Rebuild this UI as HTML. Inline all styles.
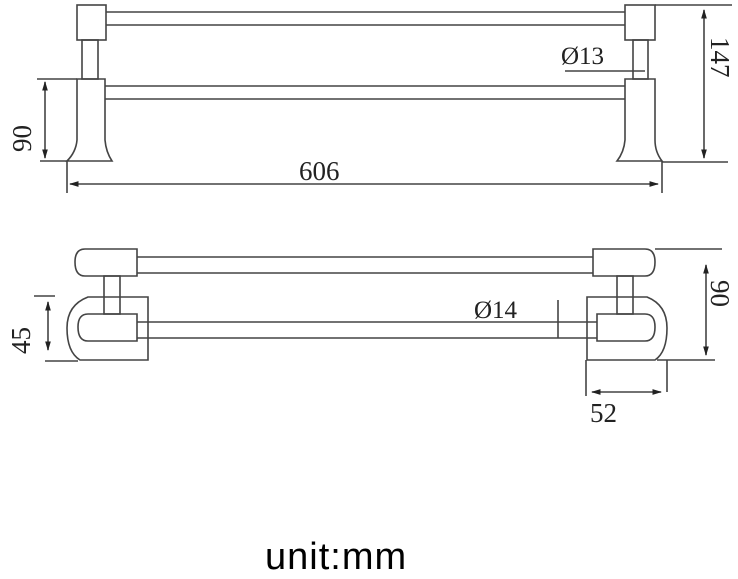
<!DOCTYPE html>
<html><head><style>
html,body{margin:0;padding:0;background:#fff;width:738px;height:579px;overflow:hidden}
svg{display:block}
.l{stroke:#444;stroke-width:1.6;fill:none}
.t{font-family:"Liberation Serif",serif;font-size:27px;fill:#222}
</style></head><body>
<svg width="738" height="579" viewBox="0 0 738 579">
<defs><marker id="a" viewBox="0 0 10 10" refX="9" refY="5" markerWidth="6" markerHeight="6" orient="auto-start-reverse"><path d="M0,2 L10,5 L0,8z" fill="#222"/></marker></defs>
<g class="l">
<rect x="77" y="5" width="29" height="35"/>
<rect x="625" y="5" width="30" height="35"/>
<line x1="106" y1="12" x2="625" y2="12"/><line x1="106" y1="25" x2="625" y2="25"/>
<rect x="82" y="40" width="16" height="39"/>
<rect x="633" y="40" width="15" height="39"/>
<path d="M77,79 L77,140 Q76,152 67,161 L112,161 Q106,152 105,140 L105,79 Z"/>
<path d="M625,79 L625,140 Q624,152 617,161 L662,161 Q655,152 655,140 L655,79 Z"/>
<line x1="105" y1="86" x2="625" y2="86"/><line x1="105" y1="99" x2="625" y2="99"/>
<line x1="37" y1="79" x2="77" y2="79"/><line x1="40" y1="161" x2="67" y2="161"/>
<line x1="45" y1="82" x2="45" y2="158" marker-start="url(#a)" marker-end="url(#a)"/>
<line x1="67" y1="161" x2="67" y2="193"/><line x1="662" y1="161" x2="662" y2="193"/>
<line x1="70" y1="184" x2="658" y2="184" marker-start="url(#a)" marker-end="url(#a)"/>
<line x1="655" y1="5" x2="732" y2="5"/><line x1="662" y1="162" x2="728" y2="162"/>
<line x1="704" y1="10" x2="704" y2="158" marker-start="url(#a)" marker-end="url(#a)"/>
<line x1="565" y1="71" x2="645" y2="71"/>
<path d="M137,249 L85,249 Q75,249 75,262 Q75,276 85,276 L137,276 Z"/>
<path d="M593,249 L645,249 Q655,249 655,262 Q655,276 645,276 L593,276 Z"/>
<line x1="137" y1="257" x2="593" y2="257"/><line x1="137" y1="273" x2="593" y2="273"/>
<rect x="104" y="276" width="16" height="38"/>
<rect x="617" y="276" width="16" height="38"/>
<path d="M148,297 L88,297 Q67,305 67,328 Q67,352 80,360 L148,360 Z"/>
<path d="M587,297 L647,297 Q667,305 667,328 Q667,352 655,360 L587,360 Z"/>
<path d="M137,314 L88,314 Q78,314 78,327 Q78,341 88,341 L137,341 Z"/>
<path d="M597,314 L645,314 Q655,314 655,327 Q655,341 645,341 L597,341 Z"/>
<line x1="137" y1="322" x2="597" y2="322"/><line x1="137" y1="338" x2="597" y2="338"/>
<line x1="34" y1="296" x2="55" y2="296"/><line x1="45" y1="361" x2="78" y2="361"/>
<line x1="48" y1="302" x2="48" y2="350" marker-start="url(#a)" marker-end="url(#a)"/>
<line x1="558" y1="300" x2="558" y2="338"/>
<line x1="655" y1="249" x2="722" y2="249"/><line x1="657" y1="360" x2="715" y2="360"/>
<line x1="706" y1="265" x2="706" y2="355" marker-start="url(#a)" marker-end="url(#a)"/>
<line x1="586" y1="360" x2="586" y2="396"/><line x1="667" y1="360" x2="667" y2="392"/>
<line x1="592" y1="392" x2="661" y2="392" marker-start="url(#a)" marker-end="url(#a)"/>
</g>
<text class="t" x="299" y="180">606</text>
<text class="t" x="561" y="64" style="font-size:25px">Ø13</text>
<text class="t" x="474" y="318" style="font-size:25px">Ø14</text>
<text class="t" x="590" y="422">52</text>
<text class="t" transform="translate(31,152) rotate(-90)">90</text>
<text class="t" transform="translate(30,354) rotate(-90)">45</text>
<text class="t" transform="translate(711,37) rotate(90)">147</text>
<text class="t" transform="translate(711,280) rotate(90)">90</text>
<text x="265" y="569" style="font-family:'Liberation Sans',sans-serif;font-size:38px;letter-spacing:1px;fill:#000">unit:mm</text>
</svg>
</body></html>
